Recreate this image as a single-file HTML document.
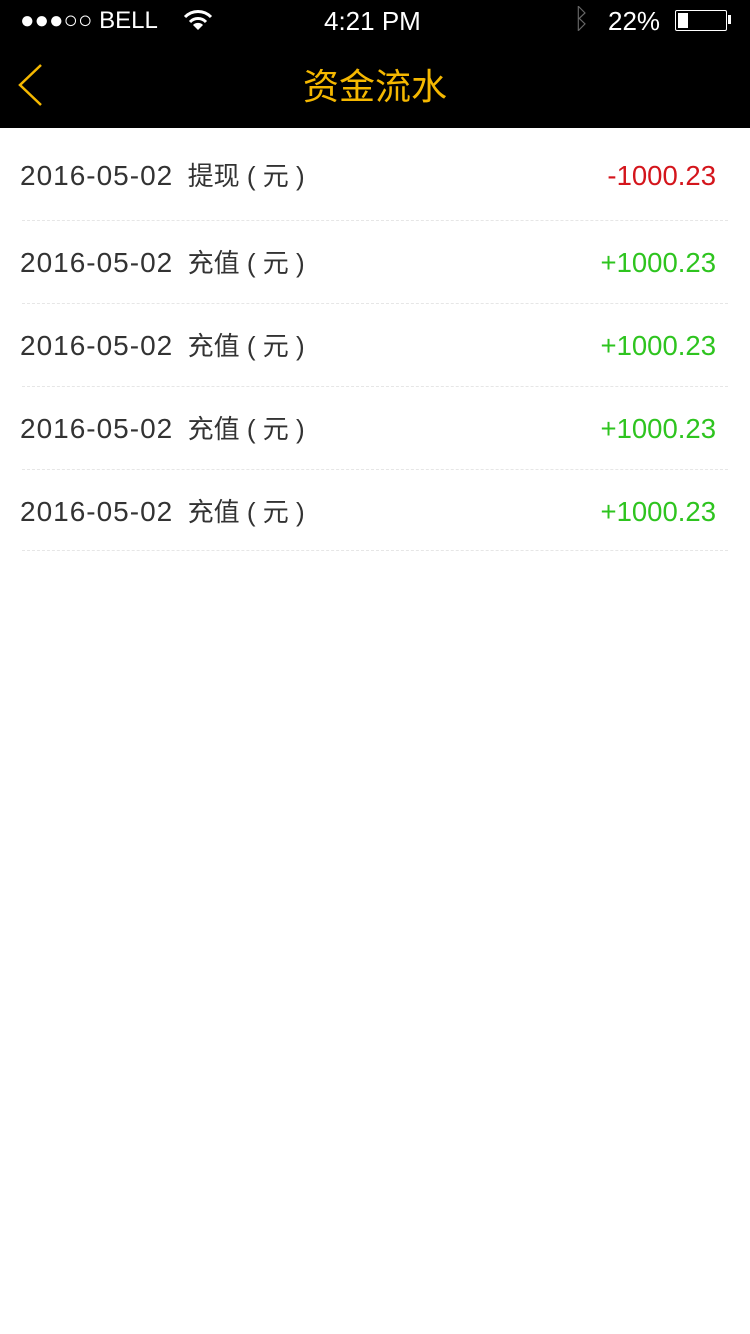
<!DOCTYPE html>
<html><head><meta charset="utf-8"><style>
body{margin:0;width:750px;height:1334px;background:#fff;font-family:"Liberation Sans","Noto Sans CJK SC",sans-serif;position:relative;overflow:hidden}
.status{position:absolute;left:0;top:0;width:750px;height:128px;background:#000}
.abs{position:absolute;white-space:nowrap}
.row{position:absolute;left:20px;width:696px;height:32px;font-size:26px;line-height:32px;color:#333}
.date{font-size:28px;letter-spacing:1px}
.amt{position:absolute;right:0;top:0;font-size:27.5px;line-height:32px}
.div{position:absolute;left:22px;width:706px;border-top:1px dashed #e6e6e6;height:0}
</style></head><body>
<div class="status">
 <div class="abs" style="left:20px;top:6px;color:#fff;font-size:24px;line-height:30px">●●●○○ BELL</div>
 <svg class="abs" style="left:183px;top:9px" width="30" height="22" viewBox="0 0 30 22"><path d="M2 8 A18 18 0 0 1 28 8" stroke="#fff" stroke-width="3" fill="none"/><path d="M7 13 A11 11 0 0 1 23 13" stroke="#fff" stroke-width="3" fill="none"/><path d="M15 21 L10 16 A7 7 0 0 1 20 16 Z" fill="#fff"/></svg>
 <div class="abs" style="left:324px;top:5px;color:#fff;font-size:26px;line-height:32px">4:21 PM</div>
 <div class="abs" style="left:573px;top:3px;color:#666;font-size:28px">ᛒ</div>
 <div class="abs" style="left:608px;top:5px;color:#fff;font-size:26px;line-height:32px">22%</div>
 <div class="abs" style="left:675px;top:10px;width:50px;height:19px;border:1.5px solid #fff;border-radius:2px"><div style="width:10px;height:15px;margin:2px;background:#fff"></div></div>
 <div class="abs" style="left:728px;top:15px;width:3px;height:9px;background:#fff"></div>
 <svg class="abs" style="left:14px;top:62px" width="34" height="46"><path d="M27 3 L6 23 L27 43" stroke="#f5b800" stroke-width="2.5" fill="none"/></svg>
 <div class="abs" style="left:0;width:750px;text-align:center;top:64px;color:#f5b800;font-size:36px;line-height:46px">资金流水</div>
</div>
<div class="row" style="top:160px"><span class="date">2016-05-02</span>&nbsp; 提现 ( 元 )<span class="amt" style="color:#d4151c">-1000.23</span></div>
<div class="div" style="top:220px"></div>
<div class="row" style="top:247px"><span class="date">2016-05-02</span>&nbsp; 充值 ( 元 )<span class="amt" style="color:#2ec41f">+1000.23</span></div>
<div class="div" style="top:303px"></div>
<div class="row" style="top:330px"><span class="date">2016-05-02</span>&nbsp; 充值 ( 元 )<span class="amt" style="color:#2ec41f">+1000.23</span></div>
<div class="div" style="top:386px"></div>
<div class="row" style="top:413px"><span class="date">2016-05-02</span>&nbsp; 充值 ( 元 )<span class="amt" style="color:#2ec41f">+1000.23</span></div>
<div class="div" style="top:469px"></div>
<div class="row" style="top:496px"><span class="date">2016-05-02</span>&nbsp; 充值 ( 元 )<span class="amt" style="color:#2ec41f">+1000.23</span></div>
<div class="div" style="top:550px"></div>
</body></html>
